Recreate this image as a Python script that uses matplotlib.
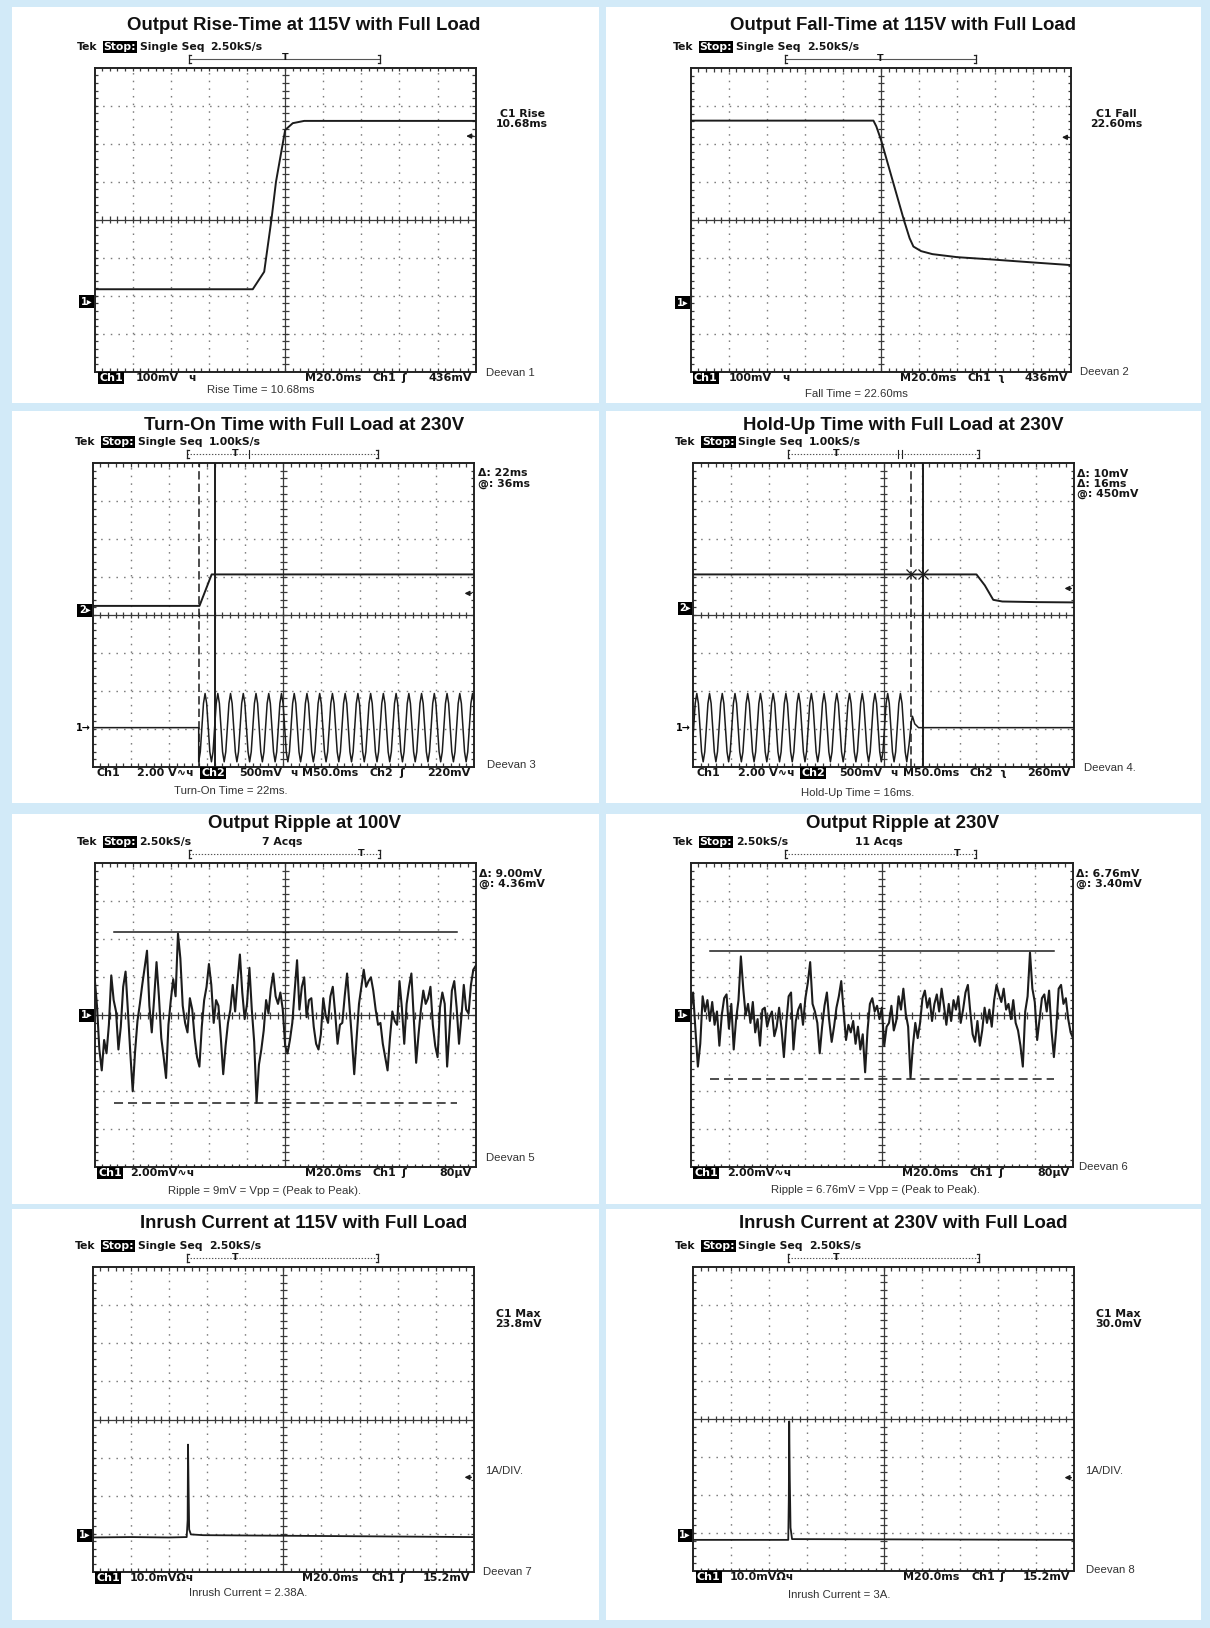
import numpy as np
import matplotlib
matplotlib.use('Agg')
import matplotlib.pyplot as plt
import matplotlib.transforms as mtransforms
from matplotlib.lines import Line2D
from matplotlib.patches import Rectangle
from matplotlib.collections import LineCollection

plt.rcParams['lines.scale_dashes'] = False

# ---------------------------------------------------------------- data
# panel 1 - rise time at 115V (time in ms, Ch1 in mV, 100 mV/div)
rise_t = [0, 83, 89, 92.8, 95.2, 100, 104, 110, 200]
rise_mv = [33, 33, 79, 216, 316, 452, 470, 476, 476]

# panel 2 - fall time at 115V
fall_t = [0, 96, 97.5, 100, 112, 115, 117, 121, 127, 140, 158, 180, 200]
fall_mv = [480, 480, 465, 429, 218, 170, 148, 136, 128, 120, 114, 106, 99]

# one cycle of the AC input as seen on Ch1 (normalised), its period and peak
ac_shape = [1.0, 0.71, 0.0, -0.71, -1.0, -0.71, 0.0, 0.71]
ac_period = 16.7   # ms
ac_peak_v = 1.8    # V

# panel 3 - turn-on at 230V (Ch2 output in mV, Ch1 AC input in V)
on_out_t = [0, 140, 156, 500]
on_out_mv = [55, 55, 470, 470]
on_ac_start = 139      # AC applied here, trace starts at a trough
on_ac_cycles = 22
on_cursors = [139, 161]

# panel 4 - hold-up at 230V
hold_out_t = [0, 372, 383, 394, 406, 450, 500]
hold_out_mv = [445, 445, 300, 110, 88, 80, 76]
hold_ac_start = -11.7  # peak just off screen
hold_ac_halfcycles = 35
hold_tail_t = [283.5, 286.5, 288, 291, 296, 500]
hold_tail_v = [-0.9, 0.3, 0.6, 0.2, 0.0, 0.0]
hold_cursors = [286, 302]
hold_level_mv = 450

# panel 5 - output ripple at 100V (mV, 0..200 ms)
ripple100_mv = [
    2.0, 0.5, -1.8, -2.9, -1.3, -2.0, -0.5, 2.1, 0.8, 0.2,
    -1.8, -0.6, 1.5, 2.3, 0.2, -2.0, -4.0, -1.9, -0.3, 0.6,
    1.6, 2.5, 3.4, 0.5, -0.9, 0.9, 2.8, 1.0, -1.2, -2.2,
    -3.3, -0.5, 0.8, 1.9, 1.0, 4.3, 3.0, 0.5, -0.4, -0.9,
    0.9, 0.3, -1.2, -2.2, -2.7, -0.6, 0.8, 1.5, 2.7, 1.6,
    -0.4, 0.8, 0.5, -1.2, -3.1, -1.6, -0.4, 0.3, 1.6, 0.2,
    1.8, 3.2, 1.2, -0.2, 0.6, 2.5, 0.3, -1.4, -4.6, -2.6,
    -1.8, -0.8, 0.8, 0.1, 1.4, 2.2, 1.0, 0.6, 1.2, 0.3,
    -1.6, -2.0, -1.3, -0.4, 1.3, 2.9, 0.3, 1.5, 2.0, -0.1,
    0.8, 0.9, -0.6, -1.5, -1.8, -1.0, 0.9, 0.0, -0.4, 1.0,
    1.5, 0.1, -1.5, -0.5, -0.4, 1.0, 2.2, 0.5, -1.2, -3.1,
    -1.2, 0.6, 1.5, 2.4, 1.5, 1.8, 2.0, 1.3, 0.3, -0.5,
    -0.4, -1.5, -2.2, -2.9, -1.2, 0.2, -0.3, -0.5, 1.8, 0.4,
    -1.5, 0.6, 1.5, 2.2, -0.1, -2.5, -1.0, 0.3, 1.3, 0.6,
    0.9, 1.5, -0.5, -1.6, -2.2, 0.4, 1.2, 0.6, -2.7, -0.8,
    1.3, 1.8, 0.4, -1.5, -0.1, 1.6, 0.3, 0.1, 1.6, 2.4, 2.6]
ripple100_cursors = [4.36, -4.64]

# panel 6 - output ripple at 230V
ripple230_mv = [
    0.3, 1.2, -0.8, -2.7, -1.5, 1.0, 0.2, 0.8, -0.3, 0.7,
    -0.5, 0.2, -1.6, 0.0, 0.9, 1.1, -0.7, 0.6, -1.8, -0.2,
    0.8, 3.1, 1.4, 0.0, 0.6, -0.4, 0.7, -0.9, -0.2, -1.6,
    0.3, 0.4, -0.6, -0.1, 0.2, -1.1, -0.6, 0.4, -0.7, -2.2,
    -0.4, 1.0, 1.2, -1.8, -0.3, 0.3, 0.6, -0.5, 0.9, 1.7,
    2.8, 0.6, 0.2, -0.4, -2.0, -0.6, 0.5, 1.2, -0.3, -1.4,
    -0.6, 0.4, 1.0, 1.8, 0.2, -1.3, -0.5, -0.9, -0.3, -1.5,
    -0.6, -1.8, -1.0, -3.0, -0.8, 0.6, 0.9, 0.2, 0.5, -0.2,
    0.4, -1.6, -0.6, -0.4, 0.5, -0.8, -0.3, 1.0, 0.3, 1.4,
    0.1, -0.6, -3.3, -1.6, -0.4, -1.2, -0.4, 0.9, 1.3, 0.4,
    0.9, -0.3, 0.6, 1.1, 0.2, 1.4, 0.5, -0.5, 0.6, -0.3,
    0.8, 0.3, 1.0, -0.4, 0.3, 1.2, 1.6, 0.2, -1.0, -1.4,
    -0.3, -1.6, -0.8, 0.4, -0.4, 0.3, -0.6, 0.8, 1.6, 1.1,
    0.7, 1.4, 0.3, 0.6, -0.2, 0.8, -0.4, -0.8, -1.6, -2.7,
    0.2, 1.0, 3.3, 1.4, 0.7, -1.3, -0.2, 0.9, 1.1, 0.2,
    1.3, -0.8, -2.2, -0.7, 1.4, 1.6, 0.6, 0.9, -0.2, -0.9, -1.2]
ripple230_cursors = [3.40, -3.36]

# panels 7/8 - inrush current (A, 1 A/div)
inrush115_t = [0, 20, 40, 49.3, 49.8, 50.0, 50.3, 50.6, 51.5, 58, 200]
inrush115_a = [-0.06, -0.05, -0.06, -0.05, 0.4, 2.38, 1.2, 0.15, 0.02, 0.0, -0.05]
inrush230_t = [0, 30, 50.0, 50.3, 50.5, 50.8, 51.2, 52, 200]
inrush230_a = [-0.12, -0.12, -0.12, 1.0, 3.0, 1.5, 0.2, -0.1, -0.12]

titles = ['Output Rise-Time at 115V with Full Load', 'Output Fall-Time at 115V with Full Load',
          'Turn-On Time with Full Load at 230V', 'Hold-Up Time with Full Load at 230V',
          'Output Ripple at 100V', 'Output Ripple at 230V',
          'Inrush Current at 115V with Full Load', 'Inrush Current at 230V with Full Load']

# ---------------------------------------------------------------- layout
W, H = 1210, 1628
BLUE = '#d2eaf8'
INK = '#1c1c1c'

fig = plt.figure(figsize=(W / 100, H / 100), dpi=100)
fig.patch.set_facecolor(BLUE)

cols = [(12, 599), (606, 1201)]
rows = [(7, 403), (411, 803), (814, 1204), (1209, 1620)]
for x0, x1 in cols:
    for y0, y1 in rows:
        fig.add_artist(Rectangle((x0 / W, 1 - y1 / H), (x1 - x0) / W, (y1 - y0) / H,
                                 transform=fig.transFigure, fc='white', ec='none', zorder=-10))

screens = [(94.6, 67.7, 475.7, 371.7), (690.7, 68.3, 1071.4, 371.7),
           (92.7, 463.3, 474, 766.7), (693, 463.3, 1074, 766.7),
           (94.6, 863.3, 475.7, 1167.3), (690.7, 863.3, 1073, 1167.3),
           (92.7, 1267.3, 474, 1571.7), (693, 1267.3, 1074, 1571)]
title_y = [25, 425.7, 824, 1223.3]
title_x = [304, 903]


def ftext(x, y, s, **kw):
    return fig.text(x / W, 1 - y / H, s, **kw)


def fline(x0, y0, x1, y1, **kw):
    fig.add_artist(Line2D([x0 / W, x1 / W], [1 - y0 / H, 1 - y1 / H], transform=fig.transFigure, **kw))


def sc(**over):
    d = dict(family='DejaVu Sans', fontweight='bold', fontsize=7.8, color='#151515', va='center', ha='left')
    d.update(over)
    return d


INV = dict(color='white', bbox=dict(boxstyle='square,pad=0.1', fc='black', ec='none'))
NOTE = dict(family='Liberation Sans', fontsize=8.2, color='#333333', va='center')


def graticule(ax):
    dots = dict(transform=ax.transAxes, color='#7a7a7a', lw=1.0, ls=(0, (1.1, 4.4)), zorder=1)
    for i in range(1, 10):
        if i != 5:
            ax.plot([i / 10, i / 10], [0, 1], **dots)
    for j in range(1, 8):
        if j != 4:
            ax.plot([0, 1], [j / 8, j / 8], **dots)
    solid = dict(transform=ax.transAxes, color='#3a3a3a', lw=0.9, zorder=1)
    ax.plot([0.5, 0.5], [0, 1], **solid)
    ax.plot([0, 1], [0.5, 0.5], **solid)
    segs = []
    for k in range(1, 50):
        x = k / 50
        segs += [[(x, 0.489), (x, 0.511)], [(x, 0), (x, 0.011)], [(x, 0.989), (x, 1)]]
    for k in range(1, 40):
        y = k / 40
        segs += [[(0.491, y), (0.509, y)], [(0, y), (0.009, y)], [(0.991, y), (1, y)]]
    ax.add_collection(LineCollection(segs, transform=ax.transAxes, colors='#3a3a3a', lw=0.9, zorder=1))
    ax.set_xticks([])
    ax.set_yticks([])
    for s in ax.spines.values():
        s.set_linewidth(1.4)
        s.set_color('#222222')


def screen(box, tdiv):
    l, t, r, b = box
    ax = fig.add_axes([l / W, 1 - b / H, (r - l) / W, (b - t) / H])
    ax.set_xlim(0, 10 * tdiv)
    ax.set_ylim(-4, 4)
    graticule(ax)
    return ax


def trace(ax, t, v, ground, per_div, lw=1.4):
    ax.plot(t, ground + np.asarray(v, float) / per_div, color=INK, lw=lw, zorder=3)


def gmark(ax, label, level, boxed=True):
    tr = mtransforms.blended_transform_factory(ax.transAxes, ax.transData)
    kw = dict(transform=tr, ha='right', va='center', fontsize=7, fontweight='bold',
              family='DejaVu Sans', clip_on=False)
    if boxed:
        kw.update(color='white', bbox=dict(boxstyle='square,pad=0.15', fc='black', ec='none'))
    ax.text(-0.006, level, label, **kw)


def tmark(ax, level):
    tr = mtransforms.blended_transform_factory(ax.transAxes, ax.transData)
    ax.annotate('', xy=(0.975, level), xytext=(0.993, level), xycoords=tr, textcoords=tr,
                arrowprops=dict(arrowstyle='-|>', lw=1.0, color=INK, mutation_scale=7,
                                shrinkA=0, shrinkB=0))


def header(box, rate, single=True, acqs=None):
    l, t, r, b = box
    y = t - 21
    ftext(l - 18, y, 'Tek', **sc())
    ftext(l + 9, y, 'Stop:', **sc(**INV))
    if single:
        ftext(l + 45, y, 'Single Seq', **sc())
        ftext(l + 116, y, rate, **sc())
    else:
        ftext(l + 45, y, rate, **sc())
        ftext((l + r) / 2 - 3, y, acqs, **sc(ha='center'))


def bracket(box, tpos, dotted=True, marks=()):
    l, t = box[0], box[1]
    y = t - 9
    x0, x1 = l + 94.5, l + 285.5
    fline(x0, y, x1, y, color='#555555', lw=0.8, ls=(0, (1, 1.2)) if dotted else '-')
    for xe, s in ((x0, 1), (x1, -1)):
        fline(xe, y - 4, xe, y + 4, color='#222222', lw=0.9)
        fline(xe, y - 4, xe + 2 * s, y - 4, color='#222222', lw=0.9)
        fline(xe, y + 4, xe + 2 * s, y + 4, color='#222222', lw=0.9)
    for m in marks:
        fline(l + m, y - 4, l + m, y + 4, color='#222222', lw=0.8)
    ftext(l + tpos, y - 1, 'T', **sc(ha='center', fontsize=6.8))


def status(box, items):
    l, t, r, b = box
    for frac, s, boxed, ha in items:
        kw = sc(ha=ha, fontsize=8)
        if boxed:
            kw.update(INV)
        ftext(l + frac * (r - l), b + 6, s, **kw)


for i, ttl in enumerate(titles):
    ftext(title_x[i % 2], title_y[i // 2], ttl, family='Liberation Sans', fontweight='bold',
          fontsize=13.4, ha='center', va='center', color='#111111')

# ---------------------------------------------------------------- panel 1
box = screens[0]
ax = screen(box, 20)
trace(ax, rise_t, rise_mv, -2.16, 100)
gmark(ax, '1▸', -2.16)
tmark(ax, -2.16 + 436 / 100)
header(box, '2.50kS/s')
bracket(box, 190.4, dotted=False)
status(box, [(0.013, 'Ch1', True, 'left'), (0.109, '100mV', False, 'left'), (0.245, 'ч', False, 'left'),
             (0.552, 'M20.0ms', False, 'left'), (0.728, 'Ch1', False, 'left'), (0.805, 'ʃ', False, 'left'),
             (0.99, '436mV', False, 'right')])
ftext(522, 119, 'C1 Rise\n10.68ms', **sc(ha='center', linespacing=1.0))
ftext(485.7, 373.3, 'Deevan 1', **NOTE)
ftext(261, 390, 'Rise Time = 10.68ms', ha='center', **NOTE)

# ---------------------------------------------------------------- panel 2
box = screens[1]
ax = screen(box, 20)
trace(ax, fall_t, fall_mv, -2.18, 100)
gmark(ax, '1▸', -2.18)
tmark(ax, -2.18 + 436 / 100)
header(box, '2.50kS/s')
bracket(box, 189.6, dotted=False)
status(box, [(0.008, 'Ch1', True, 'left'), (0.1, '100mV', False, 'left'), (0.24, 'ч', False, 'left'),
             (0.55, 'M20.0ms', False, 'left'), (0.728, 'Ch1', False, 'left'), (0.805, 'ʅ', False, 'left'),
             (0.99, '436mV', False, 'right')])
ftext(1116.6, 119, 'C1 Fall\n22.60ms', **sc(ha='center', linespacing=1.0))
ftext(1080, 371.7, 'Deevan 2', **NOTE)
ftext(856, 394.3, 'Fall Time = 22.60ms', ha='center', **NOTE)

# ---------------------------------------------------------------- panel 3
box = screens[2]
ax = screen(box, 50)
trace(ax, on_out_t, on_out_mv, 0.13, 500)
n = on_ac_cycles * len(ac_shape)
shape = np.roll(ac_shape, -4)
ac_t = on_ac_start + np.arange(n) * ac_period / len(ac_shape)
ac_v = np.tile(shape, on_ac_cycles) * ac_peak_v
trace(ax, np.r_[0, on_ac_start, ac_t], np.r_[0, 0, ac_v], -2.97, 2.0, lw=1.1)
ax.axvline(on_cursors[0], color=INK, lw=1.1, ls=(0, (6, 3)), zorder=4)
ax.axvline(on_cursors[1], color=INK, lw=1.4, zorder=4)
gmark(ax, '2▸', 0.13)
gmark(ax, '1→', -2.97, boxed=False)
tmark(ax, 0.13 + 220 / 500)
header(box, '1.00kS/s')
bracket(box, 142.8, marks=(156.3,))
status(box, [(0.01, 'Ch1', False, 'left'), (0.117, '2.00 V∿ч', False, 'left'), (0.285, 'Ch2', True, 'left'),
             (0.384, '500mV', False, 'left'), (0.517, 'ч', False, 'left'), (0.55, 'M50.0ms', False, 'left'),
             (0.727, 'Ch2', False, 'left'), (0.804, 'ʃ', False, 'left'), (0.99, '220mV', False, 'right')])
ftext(477.6, 478.5, 'Δ: 22ms\n@: 36ms', **sc(linespacing=1.0))
ftext(487, 765, 'Deevan 3', **NOTE)
ftext(230.7, 791, 'Turn-On Time = 22ms.', ha='center', **NOTE)

# ---------------------------------------------------------------- panel 4
box = screens[3]
ax = screen(box, 50)
trace(ax, hold_out_t, hold_out_mv, 0.18, 500)
n = hold_ac_halfcycles * len(ac_shape) // 2 + 1
ac_t = hold_ac_start + np.arange(n) * ac_period / len(ac_shape)
ac_v = np.tile(ac_shape, hold_ac_halfcycles // 2 + 1)[:n] * ac_peak_v
trace(ax, np.r_[ac_t, hold_tail_t], np.r_[ac_v, hold_tail_v], -2.97, 2.0, lw=1.1)
ax.axvline(hold_cursors[0], color=INK, lw=1.1, ls=(0, (6, 3)), zorder=4)
ax.axvline(hold_cursors[1], color=INK, lw=1.4, zorder=4)
ax.plot(hold_cursors, [0.18 + hold_level_mv / 500] * 2, 'x', color=INK, ms=7, mew=0.9, zorder=5)
gmark(ax, '2▸', 0.18)
gmark(ax, '1→', -2.97, boxed=False)
tmark(ax, 0.18 + 260 / 500)
header(box, '1.00kS/s')
bracket(box, 143, marks=(204.7, 209.3))
status(box, [(0.01, 'Ch1', False, 'left'), (0.117, '2.00 V∿ч', False, 'left'), (0.285, 'Ch2', True, 'left'),
             (0.384, '500mV', False, 'left'), (0.517, 'ч', False, 'left'), (0.55, 'M50.0ms', False, 'left'),
             (0.727, 'Ch2', False, 'left'), (0.804, 'ʅ', False, 'left'), (0.99, '260mV', False, 'right')])
ftext(1076.8, 484, 'Δ: 10mV\nΔ: 16ms\n@: 450mV', **sc(linespacing=1.0))
ftext(1083.8, 767.7, 'Deevan 4.', **NOTE)
ftext(857.5, 793.3, 'Hold-Up Time = 16ms.', ha='center', **NOTE)

# ---------------------------------------------------------------- panel 5 / 6
for k, (vals, curs, acqs, meas, dv, note, notexy, dxy) in enumerate([
        (ripple100_mv, ripple100_cursors, '7 Acqs', 'Δ: 9.00mV\n@: 4.36mV', 'Deevan 5',
         'Ripple = 9mV = Vpp = (Peak to Peak).', (265, 1190.7), (486.5, 1158.3)),
        (ripple230_mv, ripple230_cursors, '11 Acqs', 'Δ: 6.76mV\n@: 3.40mV', 'Deevan 6',
         'Ripple = 6.76mV = Vpp = (Peak to Peak).', (875.9, 1190), (1079, 1166.7))]):
    box = screens[4 + k]
    ax = screen(box, 20)
    t = np.linspace(0, 200, len(vals))
    trace(ax, t, vals, 0.0, 2.0, lw=1.5)
    ax.plot([10, 190], [curs[0] / 2.0] * 2, color=INK, lw=1.1, zorder=4)
    ax.plot([10, 190], [curs[1] / 2.0] * 2, color=INK, lw=1.1, ls=(0, (6.5, 3.6)), zorder=4)
    gmark(ax, '1▸', 0.0)
    header(box, '2.50kS/s', single=False, acqs=acqs)
    bracket(box, 266.4)
    status(box, [(0.01, 'Ch1', True, 'left'), (0.094, '2.00mV∿ч', False, 'left'),
                 (0.552, 'M20.0ms', False, 'left'), (0.728, 'Ch1', False, 'left'),
                 (0.805, 'ʃ', False, 'left'), (0.99, '80µV', False, 'right')])
    ftext(box[2] + 3, box[1] + 15.5, meas, **sc(linespacing=1.0))
    ftext(dxy[0], dxy[1], dv, **NOTE)
    ftext(notexy[0], notexy[1], note, ha='center', **NOTE)

# ---------------------------------------------------------------- panel 7 / 8
for k, (tt, aa, gnd, meas, mx, dxy, note, notexy) in enumerate([
        (inrush115_t, inrush115_a, -3.04, 'C1 Max\n23.8mV', 518.5, (482.6, 1572.3),
         'Inrush Current = 2.38A.', (248.6, 1593.3)),
        (inrush230_t, inrush230_a, -3.06, 'C1 Max\n30.0mV', 1118.5, (1085.7, 1570),
         'Inrush Current = 3A.', (839, 1595))]):
    box = screens[6 + k]
    ax = screen(box, 20)
    trace(ax, tt, aa, gnd, 1.0, lw=1.3)
    gmark(ax, '1▸', gnd)
    tmark(ax, gnd + 1.52)
    header(box, '2.50kS/s')
    bracket(box, 142.9)
    status(box, [(0.01, 'Ch1', True, 'left'), (0.096, '10.0mVΩч', False, 'left'),
                 (0.55, 'M20.0ms', False, 'left'), (0.73, 'Ch1', False, 'left'),
                 (0.805, 'ʃ', False, 'left'), (0.99, '15.2mV', False, 'right')])
    ftext(mx, 1319, meas, **sc(ha='center', linespacing=1.0))
    ftext(box[2] + 11, 1471.5, '1A/DIV.', **NOTE)
    ftext(dxy[0], dxy[1], 'Deevan %d' % (7 + k), **NOTE)
    ftext(notexy[0], notexy[1], note, ha='center', **NOTE)

fig.savefig('out.png', dpi=100, facecolor=BLUE)
